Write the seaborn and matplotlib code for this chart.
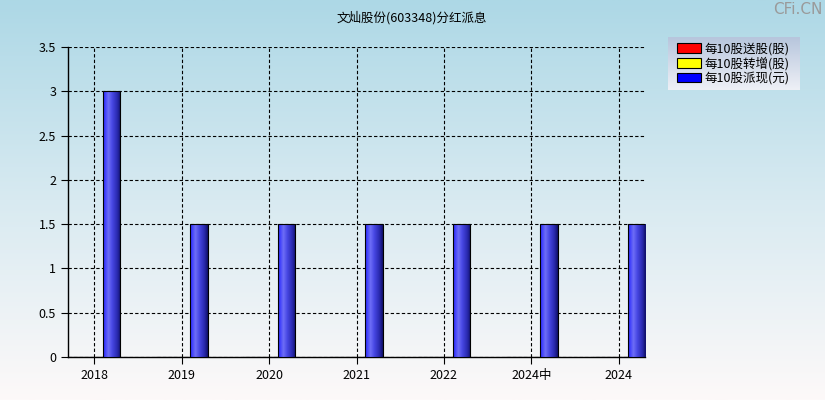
import numpy as np
import pandas as pd
import matplotlib
matplotlib.use("Agg")
import matplotlib.pyplot as plt
from matplotlib.colors import LinearSegmentedColormap
from matplotlib.patches import Patch
import seaborn as sns

plt.rcParams['font.family'] = ['Noto Sans CJK SC', 'DejaVu Sans']

## Data ##
years = ["2018", "2019", "2020", "2021", "2022", "2024中", "2024"]
song_gu = [0, 0, 0, 0, 0, 0, 0]          # 每10股送股(股)
zhuan_zeng = [0, 0, 0, 0, 0, 0, 0]       # 每10股转增(股)
pai_xian = [3, 1.5, 1.5, 1.5, 1.5, 1.5, 1.5]  # 每10股派现(元)
series_names = ["每10股送股(股)", "每10股转增(股)", "每10股派现(元)"]
series_colors = ["#ff0000", "#ffff00", "#0000ff"]
y_ticks = [0, 0.5, 1, 1.5, 2, 2.5, 3, 3.5]

df = pd.DataFrame({
    "year": years * 3,
    "series": [series_names[0]] * 7 + [series_names[1]] * 7 + [series_names[2]] * 7,
    "value": song_gu + zhuan_zeng + pai_xian,
})

fig = plt.figure(figsize=(8.25, 4), dpi=100)

# background gradient
bg = fig.add_axes([0, 0, 1, 1], zorder=-10)
bg_cmap = LinearSegmentedColormap.from_list("bg", ["#add8e6", "#d8eaf1", "#fdf9f9"])
bg.imshow(np.linspace(0, 1, 256).reshape(-1, 1), aspect="auto", cmap=bg_cmap,
          extent=[0, 1, 0, 1])
bg.axis("off")

ax = fig.add_axes([68 / 825, 1 - 357 / 400, (645 - 68) / 825, (357 - 47) / 400])
ax.patch.set_alpha(0)

sns.barplot(data=df, x="year", y="value", hue="series", order=years,
            hue_order=series_names, palette=series_colors, width=0.6,
            edgecolor="black", linewidth=0.8, legend=False, ax=ax, zorder=3)

# cylinder shading on bars
bar_cmap = LinearSegmentedColormap.from_list(
    "bar", [(0, "#2424ff"), (0.3, "#6e6ef6"), (0.5, "#4a4ae6"),
            (0.8, "#2a2ab0"), (1, "#10106a")])
grad = np.linspace(0, 1, 64).reshape(1, -1)
for p in list(ax.patches):
    h = p.get_height()
    if h > 0:
        x0 = p.get_x()
        w = p.get_width()
        ax.imshow(grad, extent=[x0, x0 + w, 0, h], aspect="auto", cmap=bar_cmap,
                  zorder=2.9)
        p.set_facecolor("none")

ax.set_xlim(-0.3, 6.3)
ax.set_ylim(0, 3.5)
ax.set_yticks(y_ticks)
ax.set_yticklabels([f"{v:g}" for v in y_ticks])
ax.set_xlabel("")
ax.set_ylabel("")
ax.tick_params(axis="both", labelsize=9, length=5, width=0.8, direction="out", colors="black")
ax.grid(True, color="black", linestyle=(0, (3, 2)), linewidth=0.8)
ax.set_axisbelow(True)
for s in ["top", "right"]:
    ax.spines[s].set_visible(False)
for s in ["left", "bottom"]:
    ax.spines[s].set_color("black")
    ax.spines[s].set_linewidth(1)

# title and watermark
fig.text(0.4994, 1 - 18 / 400, "文灿股份(603348)分红派息", ha="center", va="center", fontsize=9)
fig.text(0.997, 1 - 10 / 400, "CFi.CN", ha="right", va="center", fontsize=11,
         color="#9a9a9a", family="DejaVu Sans")

# legend box with gradient
lg_ax = fig.add_axes([668 / 825, 1 - 90 / 400, 132 / 825, 53 / 400], zorder=5)
lg_cmap = LinearSegmentedColormap.from_list("lg", ["#b7c6dd", "#eef0f6"])
lg_ax.imshow(np.linspace(0, 1, 64).reshape(-1, 1), aspect="auto", cmap=lg_cmap,
             extent=[0, 1, 0, 1])
lg_ax.axis("off")
handles = [Patch(facecolor=c, edgecolor="black", linewidth=0.8) for c in series_colors]
lg_ax.legend(handles, series_names, loc="center left", bbox_to_anchor=(0.0, 0.5),
             frameon=False, fontsize=9, handlelength=1.9, handleheight=0.8,
             handletextpad=0.35, labelspacing=0.12, borderaxespad=0.3)

plt.savefig("out.png", dpi=100)
